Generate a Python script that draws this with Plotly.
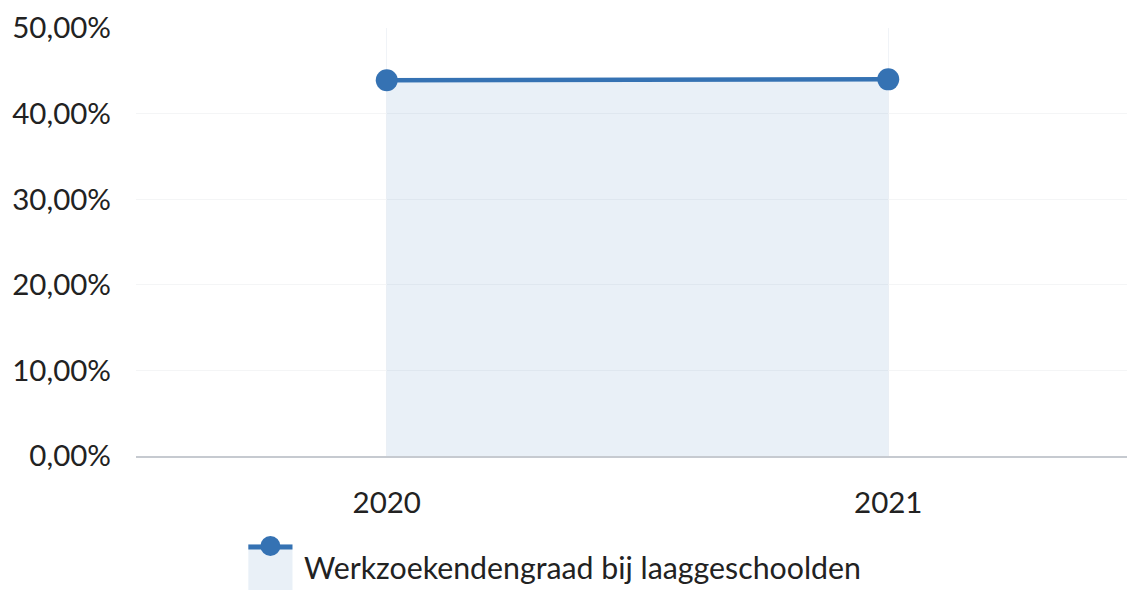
import plotly.graph_objects as go

jaren = ["2020", "2021"]
werkzoekendengraad = [43.9, 44.0]  # in %
y_ticks = [0, 10, 20, 30, 40, 50]
y_ticklabels = ["0,00%", "10,00%", "20,00%", "30,00%", "40,00%", "50,00%"]
reeks_naam = "Werkzoekendengraad bij laaggeschoolden"

LIJN = "#3572b3"
VULLING = "rgba(53, 114, 179, 0.11)"

fig = go.Figure()
fig.add_trace(go.Scatter(
    x=jaren, y=werkzoekendengraad,
    mode="lines+markers",
    name=reeks_naam,
    line=dict(color=LIJN, width=4.5),
    marker=dict(color=LIJN, size=22),
    fill="tozeroy", fillcolor=VULLING,
    showlegend=False,
))

# custom legend (box with fill, line and marker on top) below the plot
fig.add_shape(type="rect", xref="paper", yref="paper",
              x0=0.112, x1=0.156, y0=-0.313, y1=-0.2056,
              fillcolor=VULLING, line_width=0)
fig.add_shape(type="line", xref="paper", yref="paper",
              x0=0.112, x1=0.156, y0=-0.2126, y1=-0.2126,
              line=dict(color=LIJN, width=5))
fig.add_shape(type="circle", xref="paper", yref="paper",
              xsizemode="pixel", ysizemode="pixel",
              xanchor=0.134, yanchor=-0.2103,
              x0=-10, x1=10, y0=-10, y1=10,
              fillcolor=LIJN, line_width=0)
fig.add_annotation(text=reeks_naam, xref="paper", yref="paper",
                   x=0.166, y=-0.259, xanchor="left", yanchor="middle",
                   showarrow=False, font=dict(size=30.3, color="#222"))

fig.update_layout(
    width=1135, height=590,
    margin=dict(l=128, r=4, t=20, b=142),
    paper_bgcolor="white", plot_bgcolor="white",
    font=dict(family="Lato", size=29.5, color="#222"),
)
fig.update_xaxes(
    type="category", range=[-0.5, 1.5], automargin=False,
    showgrid=True, gridcolor="#f0f3f7", gridwidth=1,
    showline=True, linecolor="#c6cad0", linewidth=2,
    ticks="", ticklabelstandoff=20,
)
fig.update_yaxes(
    range=[0, 50], tickvals=y_ticks, ticktext=y_ticklabels,
    automargin=False, ticklabeloverflow="allow",
    showgrid=True, gridcolor="#f4f5f6", gridwidth=1,
    zeroline=False, ticks="", ticklabelstandoff=24,
)

fig.write_html("out.html")
